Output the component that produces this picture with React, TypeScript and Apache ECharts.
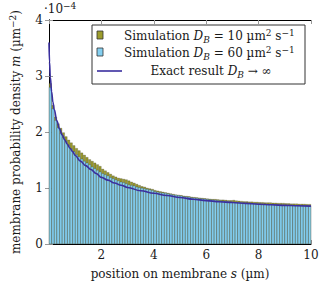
import React, { useEffect, useRef } from 'react';
import * as echarts from 'echarts';

// histogram bins of width 0.1 µm from 0 to 10 µm
const binLabels = Array.from({ length: 100 }, (_, i) => ((i + 0.5) / 10).toFixed(2));

// values in units of 1e-4 µm^-2
const simD10 = [
  2.87, 2.48, 2.27, 2.15, 2.07, 1.99, 1.92, 1.86, 1.81, 1.76,
  1.71, 1.67, 1.63, 1.59, 1.55, 1.51, 1.48, 1.45, 1.42, 1.39,
  1.34, 1.31, 1.28, 1.25, 1.22, 1.20, 1.18, 1.17, 1.16, 1.15,
  1.13, 1.11, 1.09, 1.07, 1.05, 1.03, 1.02, 1.00, 0.99, 0.98,
  0.96, 0.95, 0.94, 0.93, 0.92, 0.91, 0.90, 0.89, 0.88, 0.875,
  0.87, 0.86, 0.855, 0.85, 0.84, 0.835, 0.83, 0.825, 0.82, 0.815,
  0.81, 0.805, 0.80, 0.80, 0.795, 0.79, 0.79, 0.785, 0.78, 0.78,
  0.785, 0.775, 0.77, 0.765, 0.76, 0.76, 0.755, 0.755, 0.75, 0.75,
  0.745, 0.745, 0.74, 0.74, 0.74, 0.735, 0.735, 0.73, 0.73, 0.73,
  0.725, 0.725, 0.72, 0.72, 0.72, 0.715, 0.715, 0.715, 0.71, 0.71,
];

const simD60 = [
  2.80, 2.42, 2.21, 2.08, 1.98, 1.90, 1.83, 1.76, 1.70, 1.65,
  1.60, 1.56, 1.52, 1.48, 1.45, 1.42, 1.38, 1.35, 1.32, 1.29,
  1.26, 1.24, 1.22, 1.19, 1.17, 1.15, 1.13, 1.11, 1.10, 1.08,
  1.06, 1.05, 1.04, 1.02, 1.01, 1.00, 0.99, 0.98, 0.97, 0.96,
  0.94, 0.93, 0.92, 0.915, 0.91, 0.90, 0.89, 0.88, 0.875, 0.87,
  0.86, 0.85, 0.845, 0.84, 0.83, 0.825, 0.82, 0.815, 0.81, 0.805,
  0.80, 0.795, 0.79, 0.785, 0.78, 0.775, 0.77, 0.765, 0.76, 0.755,
  0.75, 0.745, 0.745, 0.74, 0.735, 0.735, 0.73, 0.725, 0.725, 0.72,
  0.72, 0.715, 0.715, 0.71, 0.71, 0.705, 0.705, 0.70, 0.70, 0.70,
  0.695, 0.695, 0.69, 0.69, 0.69, 0.685, 0.685, 0.685, 0.68, 0.68,
];

const exactS = [0, 0.02, 0.05, 0.1, 0.15, 0.2, 0.3, 0.4, 0.5, 0.6, 0.7, 0.8, 0.9, 1.0,
  1.2, 1.4, 1.6, 1.8, 2.0, 2.25, 2.5, 2.75, 3.0, 3.5, 4.0, 4.5, 5.0, 5.5, 6.0, 6.5,
  7.0, 7.5, 8.0, 8.5, 9.0, 9.5, 10.0];
const exactM = [3.6, 3.25, 2.98, 2.72, 2.53, 2.4, 2.2, 2.06, 1.95, 1.86, 1.78, 1.71, 1.65, 1.58,
  1.48, 1.40, 1.33, 1.26, 1.19, 1.14, 1.09, 1.05, 1.01, 0.95, 0.905, 0.865, 0.83, 0.80, 0.775, 0.755,
  0.74, 0.725, 0.71, 0.70, 0.69, 0.683, 0.676];

const xTicks = [0, 2, 4, 6, 8, 10];
const yTicks = [0, 1, 2, 3, 4];

const F = 'DejaVu Serif';
const FS = 12;
const OLIVE = '#9c9c2c';
const BLUE = '#84cff0';
const LINE = '#3a2f9f';
const EDGE = 'rgba(30,30,30,0.75)';
const TXT = '#1a1a1a';

const rich: any = {
  i: { fontFamily: F, fontSize: FS, fontStyle: 'italic', color: TXT },
  sub: { fontFamily: F, fontSize: 9, fontStyle: 'italic', verticalAlign: 'bottom', color: TXT },
  sup: { fontFamily: F, fontSize: 9, verticalAlign: 'top', color: TXT },
};

const txtStyle = (text: string, align: string) => ({
  text, rich, fontFamily: F, fontSize: FS, fill: TXT, lineHeight: 16,
  verticalAlign: 'middle', align,
});

export default function App() {
  const ref = useRef<HTMLDivElement>(null);
  useEffect(() => {
    document.body.style.margin = '0';
    const chart = echarts.init(ref.current!, null, { renderer: 'svg' });
    const axisLine = { show: true, lineStyle: { color: '#000', width: 1 } };
    const tick = { show: true, inside: true, length: 4, lineStyle: { color: '#999', width: 1 } };
    chart.setOption({
      animation: false,
      textStyle: { fontFamily: F },
      grid: { left: 40, right: 11, top: 20, bottom: 42, containLabel: false },
      xAxis: [
        { type: 'category', data: binLabels, position: 'bottom', show: false, boundaryGap: true },
        {
          type: 'value', min: xTicks[0], max: xTicks[xTicks.length - 1], interval: 2, position: 'bottom',
          axisLine, axisTick: tick, splitLine: { show: false },
          axisLabel: {
            margin: 5, fontFamily: F, fontSize: FS, color: TXT,
            formatter: (v: number) => (v === 0 ? '' : String(v)),
          },
          name: 'position on membrane {i|s} (µm)', nameLocation: 'middle', nameGap: 24,
          nameTextStyle: { fontFamily: F, fontSize: FS, color: TXT, rich },
        },
        {
          type: 'value', min: xTicks[0], max: xTicks[xTicks.length - 1], interval: 2, position: 'top',
          axisLine, axisTick: tick, axisLabel: { show: false }, splitLine: { show: false },
        },
      ],
      yAxis: [
        {
          type: 'value', min: yTicks[0], max: yTicks[yTicks.length - 1], interval: 1, position: 'left',
          axisLine, axisTick: tick, splitLine: { show: false },
          axisLabel: { margin: 6, fontFamily: F, fontSize: FS, color: TXT },
          name: 'membrane probability density {i|m} (µm{sup|−2})', nameLocation: 'middle', nameGap: 25,
          nameRotate: 90,
          nameTextStyle: { fontFamily: F, fontSize: FS, color: TXT, rich, lineHeight: 16 },
        },
        {
          type: 'value', min: yTicks[0], max: yTicks[yTicks.length - 1], interval: 1, position: 'right',
          axisLine, axisTick: tick, axisLabel: { show: false }, splitLine: { show: false },
        },
      ],
      series: [
        {
          name: 'Simulation D_B = 10', type: 'bar', xAxisIndex: 0, yAxisIndex: 0, data: simD10,
          barCategoryGap: '0%', barGap: '-100%',
          itemStyle: { color: OLIVE, borderColor: EDGE, borderWidth: 0.3 },
        },
        {
          name: 'Simulation D_B = 60', type: 'bar', xAxisIndex: 0, yAxisIndex: 0, data: simD60,
          barCategoryGap: '0%', barGap: '-100%',
          itemStyle: { color: BLUE, borderColor: EDGE, borderWidth: 0.3 },
        },
        {
          name: 'Exact result', type: 'line', xAxisIndex: 1, yAxisIndex: 0,
          data: exactS.map((s, k) => [s, exactM[k]]),
          smooth: 0.4, smoothMonotone: 'x', showSymbol: false, symbol: 'none',
          lineStyle: { color: LINE, width: 1.6 }, z: 5,
        },
      ],
      graphic: [
        { type: 'text', x: 44, y: 9, style: txtStyle('·10{sup|−4}', 'left') },
        {
          type: 'group', x: 92, y: 25, z: 100,
          children: [
            { type: 'rect', shape: { x: 0, y: 0, width: 213, height: 59 }, style: { fill: '#fff', stroke: '#333', lineWidth: 1 } },
            { type: 'rect', shape: { x: 5, y: 6, width: 6, height: 8 }, style: { fill: OLIVE, stroke: '#333', lineWidth: 0.8 } },
            { type: 'rect', shape: { x: 5, y: 23, width: 6, height: 8 }, style: { fill: BLUE, stroke: '#333', lineWidth: 0.8 } },
            { type: 'line', shape: { x1: 5, y1: 46, x2: 30, y2: 46 }, style: { stroke: LINE, lineWidth: 1.6 } },
            { type: 'text', x: 32, y: 11, style: txtStyle('Simulation {i|D}{sub|B} = 10 µm{sup|2} s{sup|−1}', 'left') },
            { type: 'text', x: 32, y: 28, style: txtStyle('Simulation {i|D}{sub|B} = 60 µm{sup|2} s{sup|−1}', 'left') },
            { type: 'text', x: 119, y: 46, style: txtStyle('Exact result {i|D}{sub|B} → ∞', 'center') },
          ],
        },
      ],
    });
    return () => chart.dispose();
  }, []);
  return <div ref={ref} style={{ width: 322, height: 286 }} />;
}
